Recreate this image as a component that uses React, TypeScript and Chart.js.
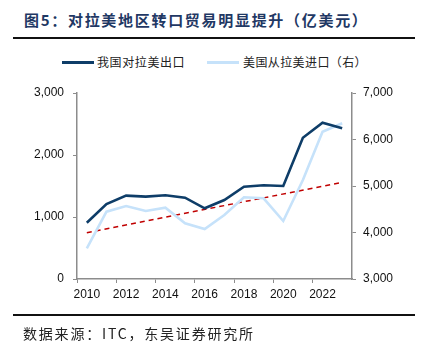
import React, { useEffect, useRef } from "react";
import { Chart, registerables } from "chart.js";

Chart.register(...registerables);

const years = ["2010", "2011", "2012", "2013", "2014", "2015", "2016", "2017", "2018", "2019", "2020", "2021", "2022", "2023"];
const chinaExports = [908, 1210, 1344, 1328, 1350, 1311, 1140, 1274, 1489, 1511, 1500, 2279, 2521, 2430];
const usImports = [3660, 4447, 4570, 4462, 4533, 4197, 4075, 4376, 4757, 4735, 4247, 5128, 6167, 6348];
const trendLine = [3995, null, null, null, null, null, null, null, null, null, null, null, null, 5079];
const leftTicks = [0, 1000, 2000, 3000];
const rightTicks = [3000, 4000, 5000, 6000, 7000];

const titleText = "图5：对拉美地区转口贸易明显提升（亿美元）";
const legend1 = "我国对拉美出口";
const legend2 = "美国从拉美进口（右）";
const sourceText = "数据来源：ITC，东吴证券研究所";

const DARK = "#0E3D68";
const LIGHT = "#C6E2FA";
const RED = "#C00000";
const AXIS = "#8C8C8C";
const CJK = "'Noto Sans CJK SC', serif";

export default function App() {
  const ref = useRef<HTMLCanvasElement | null>(null);

  useEffect(() => {
    if (!ref.current) return;
    const chart = new Chart(ref.current, {
      type: "line",
      data: {
        labels: years,
        datasets: [
          {
            label: legend1,
            data: chinaExports,
            borderColor: DARK,
            backgroundColor: DARK,
            borderWidth: 2.6,
            pointRadius: 0,
            tension: 0,
            yAxisID: "y",
          },
          {
            label: legend2,
            data: usImports,
            borderColor: LIGHT,
            backgroundColor: LIGHT,
            borderWidth: 2.6,
            pointRadius: 0,
            tension: 0,
            yAxisID: "y1",
          },
          {
            label: "trend",
            data: trendLine,
            borderColor: RED,
            borderWidth: 1.5,
            borderDash: [5, 4],
            pointRadius: 0,
            spanGaps: true,
            yAxisID: "y1",
          },
        ],
      },
      options: {
        animation: false,
        responsive: false,
        maintainAspectRatio: false,
        layout: { padding: { top: 93, bottom: 48, left: 0, right: 0 } },
        plugins: { legend: { display: false }, tooltip: { enabled: false } },
        scales: {
          x: {
            type: "category",
            offset: true,
            grid: {
              offset: true,
              drawOnChartArea: false,
              tickLength: 4,
              tickColor: (ctx: any) => (ctx.index % 2 === 0 ? AXIS : "rgba(0,0,0,0)"),
            },
            border: { color: AXIS, width: 1.5 },
            ticks: {
              autoSkip: false,
              maxRotation: 0,
              padding: 4,
              color: "#111",
              font: { family: "'Liberation Sans', Arial, sans-serif", size: 12 },
              callback: (_v: any, i: number) => (i % 2 === 0 ? years[i] : ""),
            },
            afterFit: (s: any) => {
              s.height = 26;
            },
          },
          y: {
            position: "left",
            min: 0,
            max: 3000,
            afterBuildTicks: (s: any) => {
              s.ticks = leftTicks.map((v) => ({ value: v }));
            },
            grid: { drawOnChartArea: false, tickLength: 4, tickColor: AXIS },
            border: { color: AXIS, width: 1.5 },
            ticks: {
              padding: 9,
              color: "#111",
              font: { family: "'Liberation Sans', Arial, sans-serif", size: 12 },
              callback: (v: any) => Number(v).toLocaleString("en-US"),
            },
            afterFit: (s: any) => {
              s.width = 77;
            },
          },
          y1: {
            position: "right",
            min: 3000,
            max: 7000,
            afterBuildTicks: (s: any) => {
              s.ticks = rightTicks.map((v) => ({ value: v }));
            },
            grid: { drawOnChartArea: false, tickLength: 4, tickColor: AXIS },
            border: { color: AXIS, width: 1.5 },
            ticks: {
              padding: 7,
              color: "#111",
              font: { family: "'Liberation Sans', Arial, sans-serif", size: 12 },
              callback: (v: any) => Number(v).toLocaleString("en-US"),
            },
            afterFit: (s: any) => {
              s.width = 76;
            },
          },
        },
      },
    });
    return () => chart.destroy();
  }, []);

  return (
    <div style={{ position: "absolute", left: 0, top: 0, width: 428, height: 353, background: "#fff", overflow: "hidden" }}>
      <div
        style={{
          position: "absolute",
          left: 24,
          top: 10,
          fontFamily: CJK,
          fontWeight: 700,
          fontSize: 15,
          letterSpacing: 1.7,
          color: "#1F3864",
          whiteSpace: "nowrap",
          lineHeight: "20px",
        }}
      >
        {titleText}
      </div>
      <div style={{ position: "absolute", left: 13, top: 37, width: 402, height: 2, background: "#111" }} />
      <div style={{ position: "absolute", left: 62, top: 61, width: 32, height: 3, background: DARK }} />
      <div style={{ position: "absolute", left: 97, top: 54, fontFamily: CJK, fontSize: 12, letterSpacing: 0.6, color: "#222", whiteSpace: "nowrap", lineHeight: "16px" }}>
        {legend1}
      </div>
      <div style={{ position: "absolute", left: 207, top: 61, width: 32, height: 3, background: LIGHT }} />
      <div style={{ position: "absolute", left: 243, top: 54, fontFamily: CJK, fontSize: 12, letterSpacing: 0.4, color: "#222", whiteSpace: "nowrap", lineHeight: "16px" }}>
        {legend2}
      </div>
      <canvas ref={ref} width={428} height={353} style={{ position: "absolute", left: 0, top: 0, width: 428, height: 353 }} />
      <div style={{ position: "absolute", left: 13, top: 314, width: 402, height: 2, background: "#111" }} />
      <div style={{ position: "absolute", left: 23, top: 323, fontFamily: CJK, fontSize: 14, letterSpacing: 1.8, color: "#222", whiteSpace: "nowrap", lineHeight: "20px" }}>
        {sourceText}
      </div>
    </div>
  );
}
